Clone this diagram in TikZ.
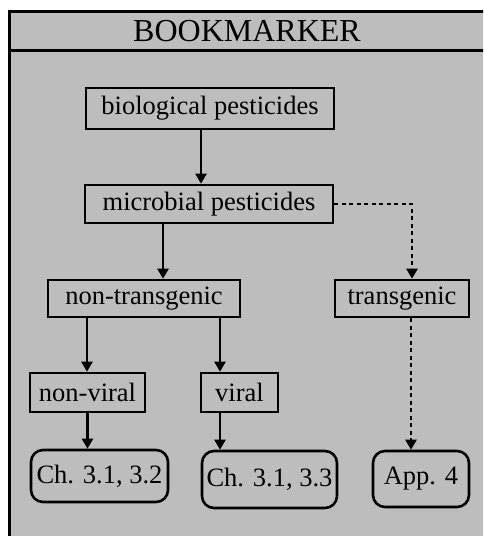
\documentclass[tikz,border=0pt]{standalone}
\usepackage{fontspec}
\setmainfont{Liberation Serif}
\usetikzlibrary{arrows.meta}
\definecolor{dither}{gray}{0.74}

\begin{document}
\begin{tikzpicture}[
    font=\fontsize{26.5}{30}\selectfont,
    box/.style  ={draw, line width=2.6pt, inner sep=0pt, minimum height=38pt},
    goal/.style ={draw, line width=2.6pt, rounded corners=12pt, inner sep=0pt},
    link/.style ={-{Triangle[width=11pt,length=10pt]}, line width=2.2pt},
    maybe/.style={-{Triangle[width=11pt,length=10pt]}, line width=2.4pt, dash pattern=on 4pt off 3.5pt},
  ]
  \useasboundingbox (0pt,0pt) rectangle (483pt,-536pt);
  \clip (0pt,0pt) rectangle (483pt,-536pt);
  % panel and header
  \filldraw[fill=dither, line width=3pt] (9pt,-11pt) rectangle (500pt,-560pt);
  \draw[line width=3pt] (9pt,-50pt) -- (500pt,-50pt);
  \node[font=\fontsize{32}{36}\selectfont] (title) at (247pt,-31pt) {BOOKMARKER};
  % tree
  \node[box, minimum width=248pt, minimum height=41pt] (bio)      at (210pt,-108.5pt) {biological pesticides};
  \node[box, minimum width=248pt] (micro)    at (209pt,-204pt)   {microbial pesticides};
  \node[box, minimum width=192pt, minimum height=37pt] (nontrans) at (144pt,-298.5pt) {non-transgenic};
  \node[box, minimum width=134pt, minimum height=37pt] (trans)    at (402pt,-298.5pt) {transgenic};
  \node[box, minimum width=115pt, minimum height=39pt] (nonviral) at (87.5pt,-392.5pt) {non-viral};
  \node[box, minimum width=77pt,  minimum height=39pt] (viral)    at (239.5pt,-392.5pt) {viral};
  \node[goal, minimum width=137pt, minimum height=52pt] (chA) at (99.5pt,-476pt)   {Ch. 3.1, 3.2};
  \node[goal, minimum width=135pt, minimum height=57pt] (chB) at (269.5pt,-479.5pt) {Ch. 3.1, 3.3};
  \node[goal, minimum width=96pt,  minimum height=56pt] (app) at (421pt,-479pt)    {App. 4};
  % connectors
  \draw[link] ([xshift=-9pt]bio.south) -- ([xshift=-9pt]bio.south |- micro.north);
  \draw[link] ([xshift=-46pt]micro.south) -- ([xshift=-46pt]micro.south |- nontrans.north);
  \draw[maybe] (micro.east) -| ([xshift=10pt]trans.north);
  \draw[link] ([xshift=-57pt]nontrans.south) -- ([xshift=-57pt]nontrans.south |- nonviral.north);
  \draw[link] ([xshift=76pt]nontrans.south) -- ([xshift=76pt]nontrans.south |- viral.north);
  \draw[link] (nonviral.south) -- (nonviral.south |- chA.north);
  \draw[link] ([xshift=-19.5pt]viral.south) -- ([xshift=-19.5pt]viral.south |- chB.north);
  \draw[maybe] ([xshift=9pt]trans.south) -- ([xshift=9pt]trans.south |- app.north);
\end{tikzpicture}
\end{document}
